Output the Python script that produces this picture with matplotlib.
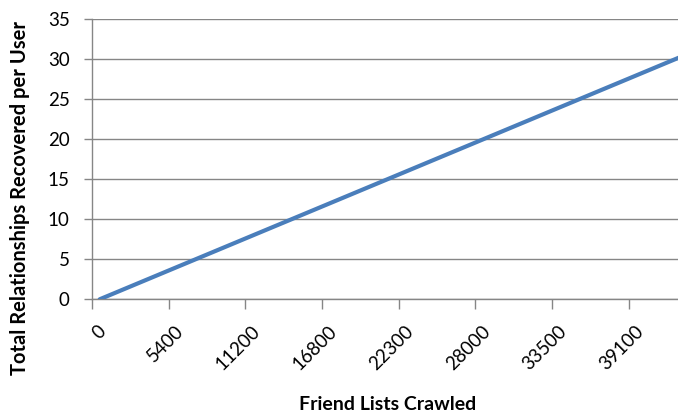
import matplotlib
matplotlib.use('Agg')
import matplotlib.pyplot as plt
from matplotlib.ticker import FixedLocator

# ---- data ----
tick_labels = ['0', '5400', '11200', '16800', '22300', '28000', '33500', '39100']
relationships = [0.0, 0.8, 1.6, 2.4, 3.2, 4.0, 4.8, 5.6, 6.4, 7.2,
                 8.0, 8.8, 9.6, 10.4, 11.2, 12.0, 12.8, 13.6, 14.4, 15.2,
                 16.0, 16.8, 17.6, 18.4, 19.2, 20.0, 20.8, 21.6, 22.4, 23.2,
                 24.0, 24.8, 25.6, 26.4, 27.2, 28.0, 28.8, 29.6, 30.4, 31.2]
label_step = 5
y_ticks = [0, 5, 10, 15, 20, 25, 30, 35]

plt.rcParams['font.family'] = ['Lato', 'DejaVu Sans']

W, H = 678, 420
fig = plt.figure(figsize=(W / 100, H / 100), dpi=100)

left_px, right_px, top_px, bottom_px = 92, 700, 19.3, 299.3
ax = fig.add_axes([left_px / W, 1 - bottom_px / H,
                   (right_px - left_px) / W, (bottom_px - top_px) / H])

cat_w = 15.34
n_vis = (right_px - left_px) / cat_w
ax.set_xlim(-0.5, -0.5 + n_vis)
ax.set_ylim(0, 35)

x = list(range(len(relationships)))
ax.plot(x, relationships, color='#4A7EBB', linewidth=3.0,
        solid_capstyle='round', zorder=3)

grid_col = '#868686'
ax.set_yticks(y_ticks)
ax.yaxis.grid(True, color=grid_col, linewidth=1.0)
ax.set_axisbelow(True)
for s in ['top', 'right']:
    ax.spines[s].set_visible(False)
for s in ['left', 'bottom']:
    ax.spines[s].set_color(grid_col)
    ax.spines[s].set_linewidth(1.0)

ax.tick_params(axis='y', direction='out', length=6, width=1, color=grid_col,
               labelsize=13.5, pad=10, labelcolor='black')

# category axis: tick marks between groups, labels at group starts
label_pos = [i * label_step for i in range(len(tick_labels))]
ax.set_xticks(label_pos)
ax.set_xticklabels([])
ax.tick_params(axis='x', which='major', length=0)
ax.xaxis.set_minor_locator(FixedLocator([p - 0.5 for p in label_pos]))
ax.tick_params(axis='x', which='minor', direction='out', length=7, width=1,
               color=grid_col)

for p, lab in zip(label_pos, tick_labels):
    ax.annotate(lab, xy=(p, 0), xycoords='data', xytext=(4, -29),
                textcoords='offset pixels', rotation=45,
                rotation_mode='anchor', ha='right', va='center',
                fontsize=13.5, color='black', annotation_clip=False)

fig.text(20 / W, 1 - 198 / H, 'Total Relationships Recovered per User',
         rotation=90, ha='center', va='center', fontsize=14.5,
         fontweight='bold')
fig.text(388 / W, 1 - 405 / H, 'Friend Lists Crawled', ha='center',
         va='center', fontsize=14, fontweight='bold')

fig.savefig('out.png', dpi=100)
